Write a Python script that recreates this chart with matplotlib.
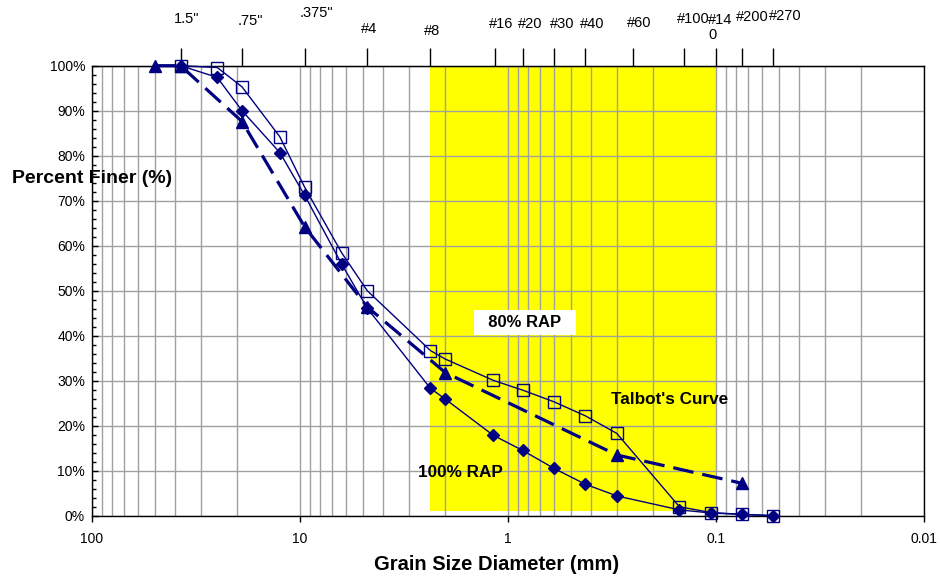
import matplotlib
matplotlib.use("Agg")
import matplotlib.pyplot as plt
import matplotlib.transforms as mtransforms
from matplotlib.ticker import FixedLocator, NullFormatter, NullLocator, LogLocator

plt.rcParams['font.family'] = ['Liberation Sans', 'DejaVu Sans']

# ---------------- data ----------------
rap80_size = [37.5, 25, 19, 12.5, 9.5, 6.3, 4.75, 2.36, 2.0, 1.18, 0.85, 0.6, 0.425, 0.3, 0.15, 0.106, 0.075, 0.053]
rap80_pct = [100, 99.6, 95.3, 84.2, 73.0, 58.4, 50.0, 36.7, 34.8, 30.1, 27.9, 25.3, 22.2, 18.3, 2.0, 0.7, 0.3, 0.0]

rap100_size = [37.5, 25, 19, 12.5, 9.5, 6.3, 4.75, 2.36, 2.0, 1.18, 0.85, 0.6, 0.425, 0.3, 0.15, 0.106, 0.075, 0.053]
rap100_pct = [100, 97.4, 90.0, 80.7, 71.2, 55.9, 46.1, 28.3, 25.9, 17.9, 14.5, 10.5, 7.0, 4.4, 1.3, 0.6, 0.3, 0.0]

talbot_size = [50, 37.5, 19, 9.5, 4.75, 2.0, 0.3, 0.075]
talbot_pct = [100, 100, 87.6, 64.2, 46.4, 31.8, 13.5, 7.2]

sieve_labels = ['1.5"', '.75"', '.375"', '#4', '#8', '#16', '#20', '#30', '#40', '#60', '#100', '#14\n0', '#200', '#270']
sieve_size = [37.5, 19, 9.5, 4.75, 2.36, 1.16, 0.85, 0.6, 0.425, 0.25, 0.142, 0.0995, 0.075, 0.053]

band_size = [2.37, 0.1]
band_pct = [1, 100]

y_ticks = [0, 10, 20, 30, 40, 50, 60, 70, 80, 90, 100]
y_ticklabels = ['0%', '10%', '20%', '30%', '40%', '50%', '60%', '70%', '80%', '90%', '100%']
x_ticks = [100, 10, 1, 0.1, 0.01]
x_ticklabels = ['100', '10', '1', '0.1', '0.01']

# ---------------- layout/style ----------------
W, H = 940, 579
fig = plt.figure(figsize=(W / 100, H / 100), dpi=100)
ax = fig.add_axes([92 / W, 1 - 515.7 / H, (924 - 92) / W, (515.7 - 65.7) / H])
navy = '#000080'
grid_c = '#a0a0a0'

ax.set_xscale('log')
ax.set_xlim(100, 0.01)
ax.set_ylim(0, 100)
ax.set_axisbelow(True)

ax.fill_between(band_size, band_pct[0], band_pct[1], color='#ffff00', zorder=0, linewidth=0)

ax.xaxis.set_major_locator(FixedLocator(x_ticks))
ax.set_xticklabels(x_ticklabels)
ax.xaxis.set_minor_locator(LogLocator(base=10, subs=range(2, 10)))
ax.xaxis.set_minor_formatter(NullFormatter())
ax.set_yticks(y_ticks)
ax.set_yticklabels(y_ticklabels)
ax.yaxis.set_minor_locator(FixedLocator(range(0, 101, 2)))

ax.grid(True, which='major', axis='both', color=grid_c, linewidth=1.0)
ax.grid(True, which='minor', axis='x', color=grid_c, linewidth=1.0)
ax.tick_params(axis='x', which='major', direction='out', length=4, width=1, labelsize=10, pad=8, top=False)
ax.tick_params(axis='x', which='minor', length=0, top=False)
ax.tick_params(axis='y', which='major', direction='in', length=4, width=1, labelsize=10, pad=5)
ax.tick_params(axis='y', which='minor', direction='in', length=3, width=1)
for s in ax.spines.values():
    s.set_color('black')
    s.set_linewidth(1.0)

# series
ax.plot(rap80_size, rap80_pct, color=navy, lw=1.0, marker='s', markersize=8,
        markerfacecolor='none', markeredgecolor=navy, markeredgewidth=1.0, clip_on=False, zorder=3)
ax.plot(rap100_size, rap100_pct, color=navy, lw=1.0, marker='D', markersize=6.5,
        markerfacecolor=navy, markeredgecolor=navy, clip_on=False, zorder=3)
ax.plot(talbot_size, talbot_pct, color=navy, lw=2.3, linestyle=(0, (6.5, 2.8)), marker='^', markersize=8,
        markerfacecolor=navy, markeredgecolor=navy, clip_on=False, zorder=4)

# top sieve axis
sec = ax.secondary_xaxis('top')
sec.xaxis.set_major_locator(FixedLocator(sieve_size))
sec.xaxis.set_minor_locator(NullLocator())
sec.xaxis.set_major_formatter(NullFormatter())
sec.tick_params(axis='x', which='major', direction='out', length=13, width=1, color='black')
sec.spines['top'].set_color('black')

label_ypix = [19, 20.7, 12.7, 29.3, 30.7, 24, 24, 24, 24, 23.3, 19, 27.8, 16.7, 16]
label_dx = [6.5, 8, 12, 2, 1.5, 7, 8, 8, 7, 6, 9, 4, 10.7, 11.7]
base = mtransforms.blended_transform_factory(ax.transData, fig.transFigure)
for lab, xs, yp, dx in zip(sieve_labels, sieve_size, label_ypix, label_dx):
    tr = mtransforms.offset_copy(base, fig=fig, x=dx * 0.72, y=0, units='points')
    ax.text(xs, 1 - yp / H, lab, transform=tr, ha='center', va='center', fontsize=10.5,
            multialignment='left', linespacing=1.1, clip_on=False)

# annotations
ax.text(0.829, 43.0, '  80% RAP  ', ha='center', va='center', fontsize=12, fontweight='bold',
        bbox=dict(boxstyle='square,pad=0.3', facecolor='white', edgecolor='none'), zorder=5)
ax.text(0.168, 25.9, "Talbot's Curve", ha='center', va='center', fontsize=12.3, fontweight='bold', zorder=5)
ax.text(1.70, 9.5, '100% RAP', ha='center', va='center', fontsize=12.3, fontweight='bold', zorder=5)

fig.text(92 / W, 1 - 178 / H, 'Percent Finer (%)', ha='center', va='center', fontsize=14, fontweight='bold')
fig.text(497 / W, 1 - 565 / H, 'Grain Size Diameter (mm)', ha='center', va='center', fontsize=14.5, fontweight='bold')

fig.savefig('out.png', dpi=100)
